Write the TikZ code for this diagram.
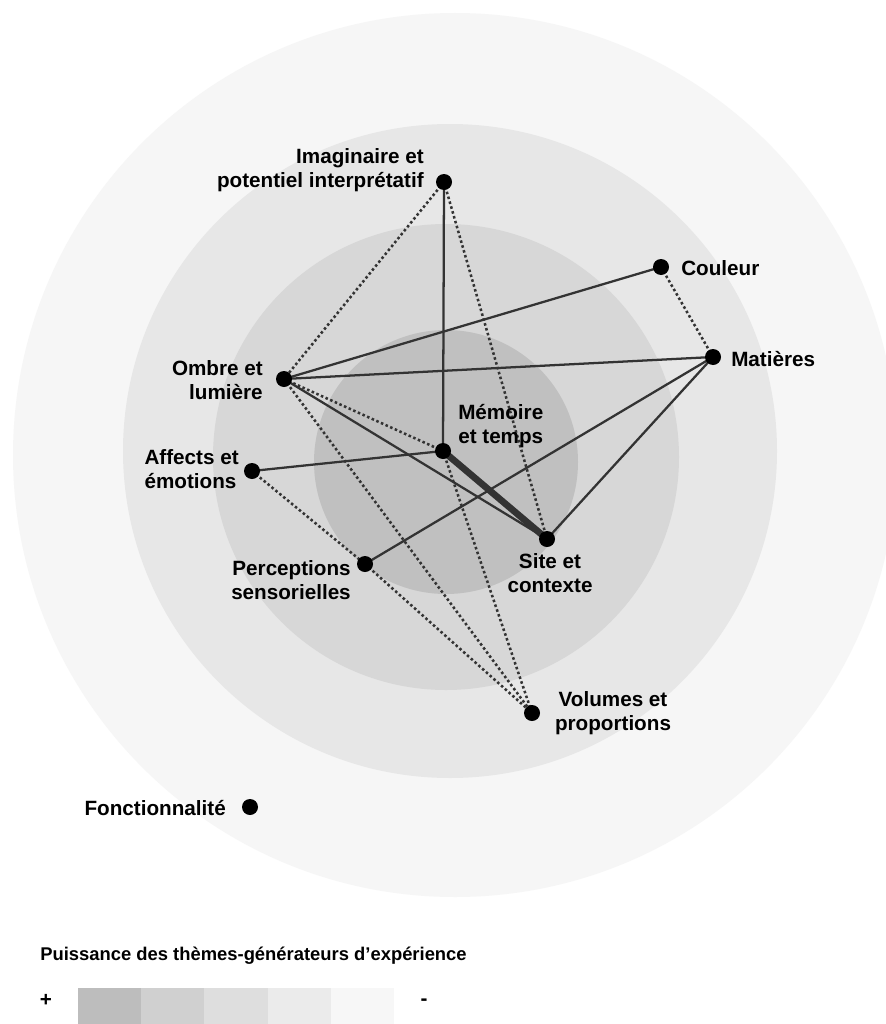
\documentclass[tikz,border=0pt]{standalone}
\usepackage{fontspec}
\setmainfont{Liberation Sans}
\definecolor{ringA}{HTML}{F6F6F6}
\definecolor{ringB}{HTML}{E7E7E7}
\definecolor{ringC}{HTML}{D7D7D7}
\definecolor{ringD}{HTML}{C0C0C0}
\definecolor{keyA}{HTML}{BDBDBD}
\definecolor{keyB}{HTML}{D0D0D0}
\definecolor{keyC}{HTML}{DEDEDE}
\definecolor{keyD}{HTML}{EBEBEB}
\definecolor{keyE}{HTML}{F7F7F7}
\definecolor{linkgray}{HTML}{333333}
\pgfdeclarelayer{back}
\pgfdeclarelayer{edges}
\pgfsetlayers{back,edges,main}
\begin{document}
\begin{tikzpicture}[x=0.75pt,y=-0.75pt,
  dot/.style={circle,fill=black,inner sep=0pt,minimum size=12pt},
  lbl/.style={font=\fontsize{15.5}{17.5}\selectfont\bfseries,inner sep=0pt},
  keytitle/.style={font=\fontsize{13.8}{16}\selectfont\bfseries,inner sep=0pt},
  link/.style={draw=linkgray,line width=1.7pt},
  weak/.style={draw=linkgray,line width=1.9pt,dash pattern=on 1.9pt off 1.9pt},
  strong/.style={draw=linkgray,line width=5pt}]
\useasboundingbox (0,0) rectangle (885,1024);
\clip (0,0) rectangle (885,1024);

% concentric rings of influence
\begin{pgfonlayer}{back}
\fill[white] (0,0) rectangle (885,1024);
\fill[ringA] (455,455) circle [radius=442];
\fill[ringB] (450,451) circle [radius=327];
\fill[ringC] (446,457) circle [radius=233];
\fill[ringD] (446,462) circle [radius=132];
\end{pgfonlayer}

% themes
\node[dot] (imag) at (444,182) {};
\node[dot] (coul) at (661,267) {};
\node[dot] (mat)  at (713,357) {};
\node[dot] (omb)  at (284,379) {};
\node[dot] (mem)  at (443,451) {};
\node[dot] (aff)  at (252,471) {};
\node[dot] (site) at (547,539) {};
\node[dot] (perc) at (365,564) {};
\node[dot] (vol)  at (532,713) {};
\node[dot] (fonc) at (250,807) {};

% labels (base = baseline of the last line)
\node[lbl,anchor=base east,align=right] (imagL) at (424,187) {Imaginaire et\\potentiel interprétatif};
\node[lbl,anchor=base west] (coulL) at (681,275) {Couleur};
\node[lbl,anchor=base west] (matL) at (731,366) {Matières};
\node[lbl,anchor=base east,align=right] (ombL) at (263,399) {Ombre et\\lumière};
\node[lbl,anchor=base west,align=left] (memL) at (458,443) {Mémoire\\et temps};
\node[lbl,anchor=base east,align=left] (affL) at (239,488) {Affects et\\émotions};
\node[lbl,anchor=base,align=center] (siteL) at (550,592) {Site et\\contexte};
\node[lbl,anchor=base east,align=right] (percL) at (351,599) {Perceptions\\sensorielles};
\node[lbl,anchor=base,align=center] (volL) at (613,730) {Volumes et\\proportions};
\node[lbl,anchor=base east] (foncL) at (226,815) {Fonctionnalité};

% links between themes
\begin{pgfonlayer}{edges}
\draw[link] (imag.center) -- (mem.center);
\draw[link] (omb.center) -- (coul.center);
\draw[link] (omb.center) -- (mat.center);
\draw[link] (omb.center) -- (site.center);
\draw[link] (aff.center) -- (mem.center);
\draw[link] (perc.center) -- (mat.center);
\draw[link] (mat.center) -- (site.center);
\draw[strong] (mem.center) -- (site.center);
\draw[weak] (imag.center) -- (omb.center);
\draw[weak] (imag.center) -- (site.center);
\draw[weak] (coul.center) -- (mat.center);
\draw[weak] (omb.center) -- (mem.center);
\draw[weak] (omb.center) -- (vol.center);
\draw[weak] (aff.center) -- (perc.center);
\draw[weak] (perc.center) -- (vol.center);
\draw[weak] (mem.center) -- (vol.center);
\end{pgfonlayer}

% key
\node[keytitle,anchor=base west] (keyT) at (40,960) {Puissance des thèmes-générateurs d’expérience};
\node[lbl,anchor=center] (plus) at (46,1000) {+};
\node[lbl,anchor=center] (minus) at (424,1002) {-};
\fill[keyA] (78,988) rectangle (141,1024);
\fill[keyB] (141,988) rectangle (204,1024);
\fill[keyC] (204,988) rectangle (268,1024);
\fill[keyD] (268,988) rectangle (331,1024);
\fill[keyE] (331,988) rectangle (394,1024);
\end{tikzpicture}
\end{document}
